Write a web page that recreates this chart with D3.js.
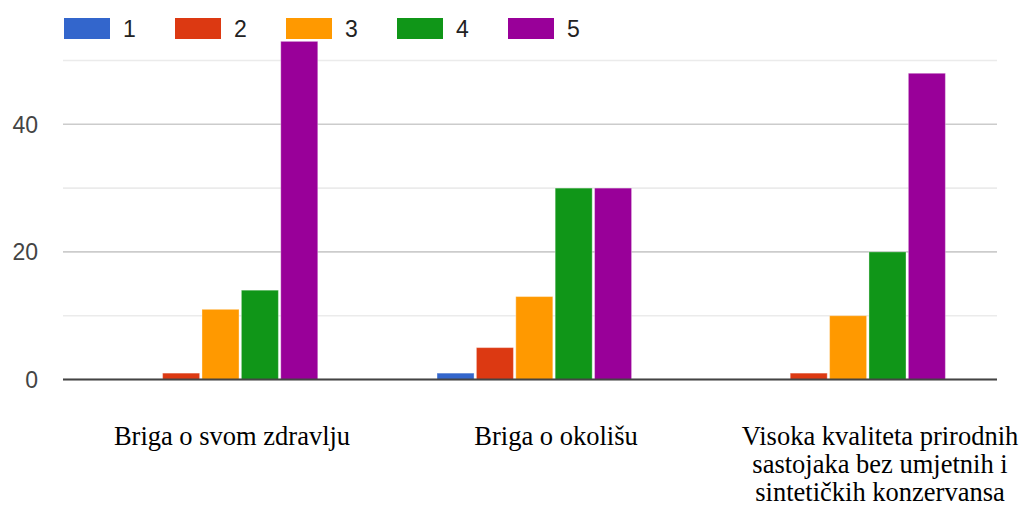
<!DOCTYPE html>
<html>
<head>
<meta charset="utf-8">
<script src="https://cdn.jsdelivr.net/npm/d3@7"></script>
<style>
  html, body { margin: 0; padding: 0; background: #fff; }
  svg { display: block; }
</style>
</head>
<body>
<svg id="chart" width="1024" height="507"></svg>
<script>
// ---- data ----
const categories = ["Briga o svom zdravlju", "Briga o okolišu", "Visoka kvaliteta prirodnih sastojaka bez umjetnih i sintetičkih konzervansa"];
const categoryLines = [
  ["Briga o svom zdravlju"],
  ["Briga o okolišu"],
  ["Visoka kvaliteta prirodnih", "sastojaka bez umjetnih i", "sintetičkih konzervansa"]
];
const seriesNames = ["1", "2", "3", "4", "5"];
const seriesColors = ["#3366cc", "#dc3912", "#ff9900", "#109618", "#990099"];
const series1 = [0, 1, 0];
const series2 = [1, 5, 1];
const series3 = [11, 13, 10];
const series4 = [14, 30, 20];
const series5 = [53, 30, 48];
const yTicks = [0, 20, 40];
const yGrid = [0, 10, 20, 30, 40, 50];

const seriesValues = [series1, series2, series3, series4, series5];

// ---- layout ----
const svg = d3.select("#chart");
const plotLeft = 63, plotRight = 997;
const y = d3.scaleLinear().domain([0, 50]).range([379.5, 60.5]);
const x0 = d3.scaleBand().domain(categories).range([63.6, 1005])
  .paddingInner(0.38).paddingOuter(0.19);
const x1 = d3.scaleBand().domain(seriesNames).range([0, x0.bandwidth()]).paddingInner(0.06);
const labelX = d3.scalePoint().domain(categories).range([232, 880]);
const color = d3.scaleOrdinal().domain(seriesNames).range(seriesColors);

// gridlines
svg.append("g").selectAll("line").data(yGrid).join("line")
  .attr("x1", plotLeft).attr("x2", plotRight)
  .attr("y1", d => y(d)).attr("y2", d => y(d))
  .attr("stroke", d => (d % 20 === 0) ? "#cccccc" : "#ebebeb")
  .attr("stroke-width", 1.6);

// y tick labels
svg.append("g").selectAll("text").data(yTicks).join("text")
  .attr("x", 38).attr("y", d => y(d))
  .attr("dy", "0.36em")
  .attr("text-anchor", "end")
  .attr("font-family", "Liberation Sans, Arial, sans-serif")
  .attr("font-size", 23)
  .attr("fill", "#444")
  .text(d => d);

// bars
const groups = svg.append("g").selectAll("g").data(categories).join("g")
  .attr("transform", d => `translate(${x0(d)},0)`);
groups.selectAll("rect")
  .data((d, i) => seriesNames.map((s, j) => ({ s, v: seriesValues[j][i] })).filter(e => e.v > 0))
  .join("rect")
  .attr("x", d => x1(d.s))
  .attr("width", x1.bandwidth())
  .attr("y", d => y(d.v))
  .attr("height", d => y(0) - y(d.v))
  .attr("fill", d => color(d.s))
  .attr("stroke", "#ffffff")
  .attr("stroke-opacity", 0.35)
  .attr("stroke-width", 1);

// baseline
svg.append("line")
  .attr("x1", plotLeft).attr("x2", plotRight)
  .attr("y1", y(0)).attr("y2", y(0))
  .attr("stroke", "#444").attr("stroke-width", 2);

// category labels
const lab = svg.append("g").selectAll("text").data(categories).join("text")
  .attr("x", d => labelX(d))
  .attr("y", 445)
  .attr("text-anchor", "middle")
  .attr("font-family", "Liberation Serif, Times New Roman, serif")
  .attr("font-size", 26.5)
  .attr("fill", "#000");
lab.each(function(d, i) {
  const t = d3.select(this);
  categoryLines[i].forEach((line, k) => {
    t.append("tspan").attr("x", labelX(d)).attr("dy", k === 0 ? 0 : 28).text(line);
  });
});

// legend
const legend = svg.append("g").selectAll("g").data(seriesNames).join("g")
  .attr("transform", (d, i) => `translate(${64 + i * 111},18)`);
legend.append("rect")
  .attr("width", 46).attr("height", 21)
  .attr("fill", d => color(d));
legend.append("text")
  .attr("x", 59).attr("y", 19)
  .attr("font-family", "Liberation Sans, Arial, sans-serif")
  .attr("font-size", 23)
  .attr("fill", "#222")
  .text(d => d);
</script>
</body>
</html>
